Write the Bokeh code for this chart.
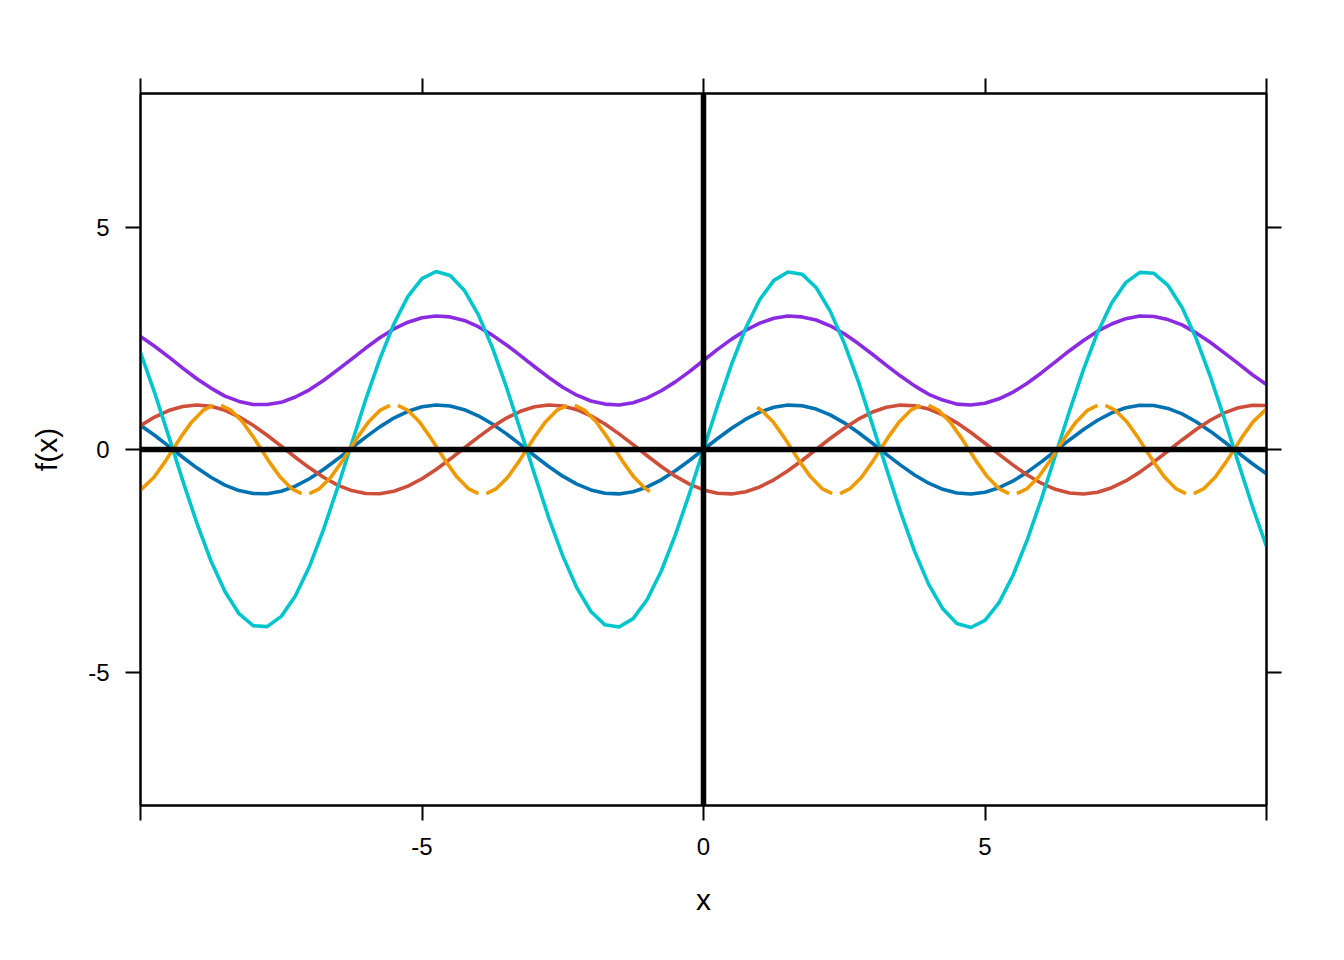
from bokeh.plotting import figure
from bokeh.models import Range1d, LinearAxis, FixedTicker, Span
from bokeh.embed import file_html
from bokeh.resources import INLINE

nan = float("nan")

# sampling grid
x_vals = [-10.0, -9.75, -9.5, -9.25, -9.0, -8.75, -8.5, -8.25, -8.0, -7.75,
          -7.5, -7.25, -7.0, -6.75, -6.5, -6.25, -6.0, -5.75, -5.5, -5.25,
          -5.0, -4.75, -4.5, -4.25, -4.0, -3.75, -3.5, -3.25, -3.0, -2.75,
          -2.5, -2.25, -2.0, -1.75, -1.5, -1.25, -1.0, -0.75, -0.5, -0.25,
          0.0, 0.25, 0.5, 0.75, 1.0, 1.25, 1.5, 1.75, 2.0, 2.25,
          2.5, 2.75, 3.0, 3.25, 3.5, 3.75, 4.0, 4.25, 4.5, 4.75,
          5.0, 5.25, 5.5, 5.75, 6.0, 6.25, 6.5, 6.75, 7.0, 7.25,
          7.5, 7.75, 8.0, 8.25, 8.5, 8.75, 9.0, 9.25, 9.5, 9.75,
          10.0]

blue_y = [0.544, 0.320, 0.075, -0.174, -0.412, -0.624, -0.799, -0.923, -0.989, -0.995,
          -0.938, -0.823, -0.657, -0.450, -0.215, 0.033, 0.279, 0.508, 0.706, 0.859,
          0.959, 0.999, 0.978, 0.895, 0.757, 0.572, 0.351, 0.108, -0.141, -0.382,
          -0.599, -0.778, -0.909, -0.984, -0.998, -0.949, -0.841, -0.682, -0.479, -0.247,
          0.000, 0.247, 0.479, 0.682, 0.841, 0.949, 0.998, 0.984, 0.909, 0.778,
          0.599, 0.382, 0.141, -0.108, -0.351, -0.572, -0.757, -0.895, -0.978, -0.999,
          -0.959, -0.859, -0.706, -0.508, -0.279, -0.033, 0.215, 0.450, 0.657, 0.823,
          0.938, 0.995, 0.989, 0.923, 0.799, 0.624, 0.412, 0.174, -0.075, -0.320,
          -0.544]

red_y = [0.537, 0.729, 0.876, 0.968, 1.000, 0.970, 0.880, 0.735, 0.544, 0.320,
         0.075, -0.174, -0.412, -0.624, -0.799, -0.923, -0.989, -0.995, -0.938, -0.823,
         -0.657, -0.450, -0.215, 0.033, 0.279, 0.508, 0.706, 0.859, 0.959, 0.999,
         0.978, 0.895, 0.757, 0.572, 0.351, 0.108, -0.141, -0.382, -0.599, -0.778,
         -0.909, -0.984, -0.998, -0.949, -0.841, -0.682, -0.479, -0.247, 0.000, 0.247,
         0.479, 0.682, 0.841, 0.949, 0.998, 0.984, 0.909, 0.778, 0.599, 0.382,
         0.141, -0.108, -0.351, -0.572, -0.757, -0.895, -0.978, -0.999, -0.959, -0.859,
         -0.706, -0.508, -0.279, -0.033, 0.215, 0.450, 0.657, 0.823, 0.938, 0.995,
         0.989]

cyan_y = [2.18, 1.28, 0.30, -0.70, -1.65, -2.50, -3.19, -3.69, -3.96, -3.98,
          -3.75, -3.29, -2.63, -1.80, -0.86, 0.13, 1.12, 2.03, 2.82, 3.44,
          3.84, 4.00, 3.91, 3.58, 3.03, 2.29, 1.40, 0.43, -0.56, -1.53,
          -2.39, -3.11, -3.64, -3.94, -3.99, -3.80, -3.37, -2.73, -1.92, -0.99,
          0.00, 0.99, 1.92, 2.73, 3.37, 3.80, 3.99, 3.94, 3.64, 3.11,
          2.39, 1.53, 0.56, -0.43, -1.40, -2.29, -3.03, -3.58, -3.91, -4.00,
          -3.84, -3.44, -2.82, -2.03, -1.12, -0.13, 0.86, 1.80, 2.63, 3.29,
          3.75, 3.98, 3.96, 3.69, 3.19, 2.50, 1.65, 0.70, -0.30, -1.28,
          -2.18]

purple_y = [2.54, 2.32, 2.08, 1.83, 1.59, 1.38, 1.20, 1.08, 1.01, 1.01,
            1.06, 1.18, 1.34, 1.55, 1.79, 2.03, 2.28, 2.51, 2.71, 2.86,
            2.96, 3.00, 2.98, 2.90, 2.76, 2.57, 2.35, 2.11, 1.86, 1.62,
            1.40, 1.22, 1.09, 1.02, 1.00, 1.05, 1.16, 1.32, 1.52, 1.75,
            2.00, 2.25, 2.48, 2.68, 2.84, 2.95, 3.00, 2.98, 2.91, 2.78,
            2.60, 2.38, 2.14, 1.89, 1.65, 1.43, 1.24, 1.11, 1.02, 1.00,
            1.04, 1.14, 1.29, 1.49, 1.72, 1.97, 2.22, 2.45, 2.66, 2.82,
            2.94, 3.00, 2.99, 2.92, 2.80, 2.62, 2.41, 2.17, 1.93, 1.68,
            1.46]

# orange series: broken into pieces (NaN = gap)
orange_x = [-10.0, -9.760, -9.560, -9.425, -9.290, -9.090, -8.890, -8.710, nan,
            -8.569, -8.389, -8.189, -7.989, -7.854, -7.719, -7.519, -7.319, -7.139, nan,
            -6.999, -6.819, -6.619, -6.419, -6.284, -6.149, -5.949, -5.749, -5.569, nan,
            -5.428, -5.248, -5.048, -4.848, -4.713, -4.578, -4.378, -4.178, -3.998, nan,
            -3.857, -3.677, -3.477, -3.277, -3.142, -3.007, -2.807, -2.607, -2.427, nan,
            -2.286, -2.106, -1.906, -1.706, -1.571, -1.436, -1.236, -1.036, -0.953, nan,
            0.953, 1.035, 1.235, 1.435, 1.571, 1.705, 1.905, 2.105, 2.285, nan,
            2.426, 2.606, 2.806, 3.006, 3.141, 3.276, 3.476, 3.676, 3.856, nan,
            3.997, 4.177, 4.377, 4.577, 4.712, 4.847, 5.047, 5.247, 5.427, nan,
            5.568, 5.748, 5.948, 6.148, 6.283, 6.418, 6.618, 6.818, 6.998, nan,
            7.139, 7.319, 7.519, 7.719, 7.854, 7.989, 8.189, 8.389, 8.569, nan,
            8.709, 8.889, 9.089, 9.289, 9.425, 9.560, 9.760, 10.0]
orange_y = [-0.913, -0.622, -0.267, 0.0, 0.266, 0.620, 0.877, 0.990, nan,
            0.990, 0.878, 0.622, 0.267, 0.0, -0.266, -0.620, -0.877, -0.990, nan,
            -0.990, -0.878, -0.622, -0.267, 0.0, 0.266, 0.620, 0.877, 0.990, nan,
            0.990, 0.878, 0.622, 0.267, 0.0, -0.266, -0.620, -0.877, -0.990, nan,
            -0.990, -0.878, -0.622, -0.267, 0.0, 0.266, 0.620, 0.877, 0.990, nan,
            0.990, 0.878, 0.622, 0.267, 0.0, -0.266, -0.620, -0.877, -0.945, nan,
            0.945, 0.878, 0.622, 0.267, 0.0, -0.266, -0.620, -0.877, -0.990, nan,
            -0.990, -0.878, -0.622, -0.267, 0.0, 0.266, 0.620, 0.877, 0.990, nan,
            0.990, 0.878, 0.622, 0.267, 0.0, -0.266, -0.620, -0.877, -0.990, nan,
            -0.990, -0.878, -0.622, -0.267, 0.0, 0.266, 0.620, 0.877, 0.990, nan,
            0.990, 0.878, 0.622, 0.267, 0.0, -0.266, -0.620, -0.877, -0.990, nan,
            -0.990, -0.877, -0.622, -0.267, 0.0, 0.266, 0.620, 0.913]

x_ticks = [-10, -5, 0, 5, 10]
x_tick_labels = {-10: "", -5: "-5", 0: "0", 5: "5", 10: ""}
y_ticks = [-5, 0, 5]
y_tick_labels = {-5: "-5", 0: "0", 5: "5"}
x_title = "x"
y_title = "f(x)"

FONT = "Liberation Sans"
TICK_SIZE = "24px"
TITLE_SIZE = "30px"

p = figure(width=1328, height=944,
           x_range=Range1d(-10, 10), y_range=Range1d(-8, 8),
           x_axis_type=None, y_axis_type=None,
           output_backend="svg", toolbar_location=None,
           min_border_left=140, min_border_right=62,
           min_border_top=93, min_border_bottom=139)
p.xgrid.visible = False
p.ygrid.visible = False
p.outline_line_color = "black"
p.outline_line_width = 2
p.background_fill_color = "white"
p.border_fill_color = "white"


def style_axis(ax, show_labels):
    ax.major_tick_out = 15
    ax.major_tick_in = 0
    ax.minor_tick_out = 0
    ax.minor_tick_in = 0
    ax.axis_line_color = "black"
    ax.axis_line_width = 2
    ax.major_tick_line_color = "black"
    ax.major_tick_line_width = 2
    ax.major_label_text_font = FONT
    ax.major_label_text_font_size = TICK_SIZE
    ax.major_label_text_color = "black"
    ax.axis_label_text_font = FONT
    ax.axis_label_text_font_size = TITLE_SIZE
    ax.axis_label_text_font_style = "normal"
    ax.axis_label_text_color = "black"
    if not show_labels:
        ax.major_label_text_alpha = 0.0


bottom = LinearAxis(ticker=FixedTicker(ticks=x_ticks), axis_label=x_title)
bottom.major_label_overrides = x_tick_labels
style_axis(bottom, True)
bottom.major_label_standoff = 17
bottom.axis_label_standoff = 25
p.add_layout(bottom, "below")

top = LinearAxis(ticker=FixedTicker(ticks=x_ticks))
style_axis(top, False)
p.add_layout(top, "above")

left = LinearAxis(ticker=FixedTicker(ticks=y_ticks), axis_label=y_title)
left.major_label_overrides = y_tick_labels
style_axis(left, True)
left.major_label_standoff = 16
left.axis_label_standoff = 22
p.add_layout(left, "left")

right = LinearAxis(ticker=FixedTicker(ticks=y_ticks))
style_axis(right, False)
p.add_layout(right, "right")

# reference lines at x=0 and y=0
p.add_layout(Span(location=0, dimension="width", line_color="black", line_width=5.5))
p.add_layout(Span(location=0, dimension="height", line_color="black", line_width=5.5))

lw = 3.6
p.line(x_vals, blue_y, line_color="#0072B2", line_width=lw, line_join="round")
p.line(x_vals, red_y, line_color="#CD4F39", line_width=lw, line_join="round")
p.line(x_vals, purple_y, line_color="#8A2BE2", line_width=lw, line_join="round")
p.line(x_vals, cyan_y, line_color="#00C5CD", line_width=lw, line_join="round")
p.line(orange_x, orange_y, line_color="#EE9A00", line_width=lw, line_join="round")

open("out.html", "w").write(file_html(p, INLINE))
